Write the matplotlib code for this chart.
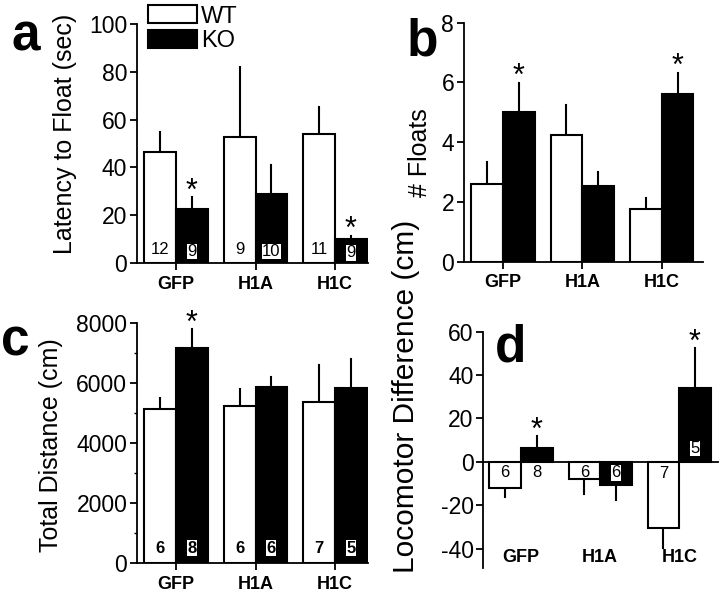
import numpy as np
import matplotlib
matplotlib.use('Agg')
import matplotlib.pyplot as plt
from matplotlib.ticker import MultipleLocator
from matplotlib.patches import Patch

plt.rcParams['font.family'] = ['Liberation Sans', 'DejaVu Sans']
plt.rcParams['axes.unicode_minus'] = False
plt.rcParams['mathtext.fontset'] = 'custom'
plt.rcParams['mathtext.rm'] = 'Liberation Sans'

# Datos
grupos = ['GFP', 'H1A', 'H1C']

latencia_wt = [46.5, 52.8, 53.8]
latencia_wt_err = [8.5, 29.2, 11.6]
latencia_ko = [22.5, 29.0, 10.0]
latencia_ko_err = [5.1, 12.0, 1.4]
latencia_n_wt = [12, 9, 11]
latencia_n_ko = [9, 10, 9]
latencia_sig = [True, False, True]

floats_wt = [2.6, 4.24, 1.76]
floats_wt_err = [0.74, 1.0, 0.36]
floats_ko = [5.02, 2.53, 5.6]
floats_ko_err = [0.97, 0.48, 0.72]
floats_sig = [True, False, True]

distancia_wt = [5133, 5253, 5387]
distancia_wt_err = [367, 547, 1213]
distancia_ko = [7187, 5867, 5853]
distancia_ko_err = [613, 353, 947]
distancia_n_wt = [6, 6, 7]
distancia_n_ko = [8, 6, 5]
distancia_sig = [True, False, False]

diferencia_wt = [-11.8, -8.0, -30.3]
diferencia_wt_err = [4.4, 6.9, 9.2]
diferencia_ko = [6.5, -10.8, 34.2]
diferencia_ko_err = [5.4, 6.9, 18.1]
diferencia_n_wt = [6, 6, 7]
diferencia_n_ko = [8, 6, 5]
diferencia_sig = [True, False, True]

ancho = 0.40
lw = 1.5
x = np.arange(len(grupos))


def barras(ax, wt, wt_err, ko, ko_err, sig):
    ax.bar(x - ancho / 2, wt, ancho, color='white', edgecolor='black', linewidth=lw, zorder=2)
    ax.bar(x + ancho / 2, ko, ancho, color='black', edgecolor='black', linewidth=lw, zorder=2)
    for xs, vals, errs in [(x - ancho / 2, wt, wt_err), (x + ancho / 2, ko, ko_err)]:
        for xi, v, e in zip(xs, vals, errs):
            fin = v + e if v >= 0 else v - e
            ax.plot([xi, xi], [v, fin], color='black', linewidth=lw, zorder=1)
    # asterisco de significancia
    for xi, v, e, s in zip(x + ancho / 2, ko, ko_err, sig):
        if s:
            ax.annotate('$*$', (xi, v + e), xytext=(0, -1.0), textcoords='offset points',
                        ha='center', va='baseline', fontsize=22)


def estilo(ax, xlim):
    for s in ['top', 'right']:
        ax.spines[s].set_visible(False)
    for s in ['left', 'bottom']:
        ax.spines[s].set_linewidth(1.3)
    ax.set_xlim(*xlim)
    ax.tick_params(axis='y', direction='out', length=5, width=1.3, labelsize=16.5, pad=2)
    ax.tick_params(axis='x', direction='out', length=5, width=1.3, pad=4)
    ax.set_xticks(x)
    ax.set_xticklabels(grupos, fontsize=13, fontweight='bold')


def etiquetas_n(ax, n_wt, n_ko, y_wt, y_ko, negrita=False, caja_ko=None):
    peso = 'bold' if negrita else 'normal'
    for i in range(len(grupos)):
        ax.text(x[i] - ancho / 2, y_wt[i], str(n_wt[i]), ha='center', va='center',
                fontsize=12, fontweight=peso, zorder=4)
        caja = dict(facecolor='white', edgecolor='none', pad=0.3)
        if caja_ko is not None and not caja_ko[i]:
            caja = None
        ax.text(x[i] + ancho / 2, y_ko[i], str(n_ko[i]), ha='center', va='center',
                fontsize=12, fontweight=peso, bbox=caja, zorder=4)


fig = plt.figure(figsize=(7.2, 5.98), dpi=100)

# a
ax_a = fig.add_axes([0.1903, 0.5602, 0.3204, 0.3997])
barras(ax_a, latencia_wt, latencia_wt_err, latencia_ko, latencia_ko_err, latencia_sig)
estilo(ax_a, (-0.49, 2.41))
ax_a.set_ylim(0, 100)
ax_a.set_yticks([0, 20, 40, 60, 80, 100])
etiquetas_n(ax_a, latencia_n_wt, latencia_n_ko, [5.8] * 3, [4.8, 4.8, 4.2])
ax_a.set_ylabel('Latency to Float (sec)', fontsize=18)
ax_a.yaxis.set_label_coords(-0.259, 0.542)

# b
ax_b = fig.add_axes([0.6444, 0.5624, 0.3319, 0.3997])
barras(ax_b, floats_wt, floats_wt_err, floats_ko, floats_ko_err, floats_sig)
estilo(ax_b, (-0.49, 2.52))
ax_b.set_ylim(0, 8)
ax_b.set_yticks([0, 2, 4, 6, 8])
ax_b.set_ylabel('# Floats', fontsize=18)
ax_b.yaxis.set_label_coords(-0.134, 0.455)

# c
ax_c = fig.add_axes([0.1903, 0.0580, 0.3204, 0.4013])
barras(ax_c, distancia_wt, distancia_wt_err, distancia_ko, distancia_ko_err, distancia_sig)
estilo(ax_c, (-0.49, 2.41))
ax_c.set_ylim(0, 8000)
ax_c.set_yticks([0, 2000, 4000, 6000, 8000])
ax_c.yaxis.set_minor_locator(MultipleLocator(1000))
ax_c.tick_params(axis='y', which='minor', length=2.5, width=1.0)
etiquetas_n(ax_c, distancia_n_wt, distancia_n_ko, [500] * 3, [500] * 3, negrita=True)
ax_c.set_ylabel('Total Distance (cm)', fontsize=18)
ax_c.yaxis.set_label_coords(-0.321, 0.493)

# d
ax_d = fig.add_axes([0.6713, 0.0497, 0.3260, 0.3957])
barras(ax_d, diferencia_wt, diferencia_wt_err, diferencia_ko, diferencia_ko_err, diferencia_sig)
estilo(ax_d, (-0.477, 2.49))
ax_d.set_ylim(-49, 60)
ax_d.set_yticks([-40, -20, 0, 20, 40, 60])
ax_d.spines['bottom'].set_position(('data', 0))
ax_d.tick_params(axis='x', length=0, labelbottom=False)
for xi, g in zip(x, grupos):
    ax_d.text(xi, -44, g, ha='center', va='center', fontsize=13, fontweight='bold')
etiquetas_n(ax_d, diferencia_n_wt, diferencia_n_ko, [-5, -5, -5.5], [-5, -5, 6.2],
            caja_ko=[False, True, True])
ax_d.set_ylabel('Locomotor Difference (cm)', fontsize=21.5)
ax_d.yaxis.set_label_coords(-0.27, 0.725)

# letras de panel
fig.text(0.016, 0.916, 'a', fontsize=37, fontweight='bold', va='baseline')
fig.text(0.564, 0.908, 'b', fontsize=37, fontweight='bold', va='baseline')
fig.text(0.002, 0.406, 'c', fontsize=37, fontweight='bold', va='baseline')
fig.text(0.688, 0.395, 'd', fontsize=37, fontweight='bold', va='baseline')

# leyenda
manejadores = [Patch(facecolor='white', edgecolor='black', linewidth=lw),
               Patch(facecolor='black', edgecolor='black', linewidth=lw)]
fig.legend(manejadores, ['WT', 'KO'], loc='upper left', bbox_to_anchor=(0.205, 0.991),
           frameon=False, fontsize=17, handlelength=2.1, handleheight=0.8,
           handletextpad=0.15, labelspacing=0.1, borderpad=0, borderaxespad=0)

fig.savefig('out.png', dpi=100)
